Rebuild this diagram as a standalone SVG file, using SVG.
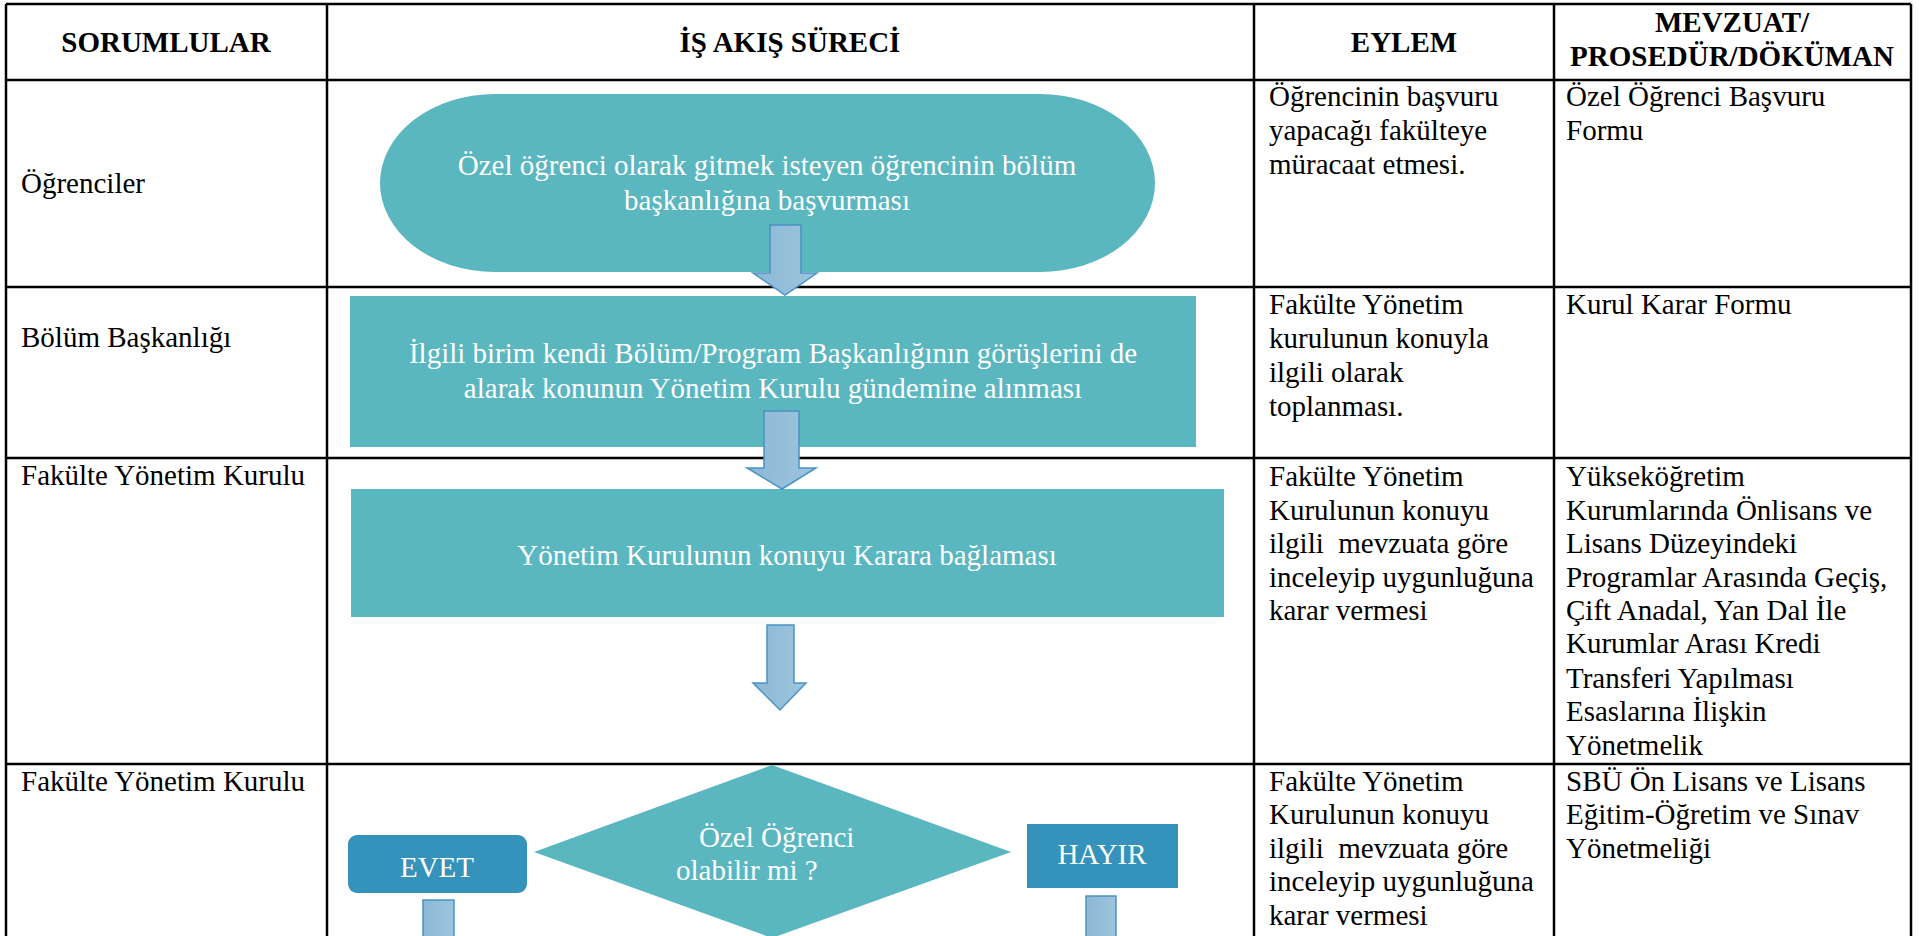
<svg xmlns="http://www.w3.org/2000/svg" width="1926" height="936" viewBox="0 0 1926 936">
<defs>
<style>
.t{font-family:"Liberation Serif","Times New Roman",serif;font-size:29px;fill:#000}
.h{font-weight:bold;text-anchor:middle}
.w{fill:#fff}
.c{text-anchor:middle}
.grid{stroke:#000;stroke-width:2.5;fill:none}
.teal{fill:#5AB6BF}
.dark{fill:#3592BA}
.arr{fill:url(#ag);stroke:#4A93C2;stroke-width:1.5;stroke-linejoin:miter}
</style>
<linearGradient id="ag" x1="0" y1="0" x2="1" y2="0">
<stop offset="0" stop-color="#8CB8D6"/>
<stop offset="1" stop-color="#9DC4DC"/>
</linearGradient>
</defs>
<rect width="1926" height="936" fill="#fff"/>

<g id="table">
<path class="grid" d="M6 4H1911M6 80H1911M6 287H1911M6 458H1911M6 764H1911M6 4V936M327 4V936M1254 4V936M1554 4V936M1911 4V936"/>
<text class="t h" x="166" y="52">SORUMLULAR</text>
<text class="t h" x="790" y="52">İŞ AKIŞ SÜRECİ</text>
<text class="t h" x="1404" y="52">EYLEM</text>
<text class="t h" x="1732" y="32">MEVZUAT/</text>
<text class="t h" x="1732" y="66">PROSEDÜR/DÖKÜMAN</text>
</g>

<g id="sorumlular">
<text class="t" x="21" y="193">Öğrenciler</text>
<text class="t" x="21" y="347">Bölüm Başkanlığı</text>
<text class="t" x="21" y="485">Fakülte Yönetim Kurulu</text>
<text class="t" x="21" y="791">Fakülte Yönetim Kurulu</text>
</g>

<g id="eylem">
<text class="t" x="1269" y="106">Öğrencinin başvuru</text>
<text class="t" x="1269" y="140">yapacağı fakülteye</text>
<text class="t" x="1269" y="174">müracaat etmesi.</text>
<text class="t" x="1269" y="314">Fakülte Yönetim</text>
<text class="t" x="1269" y="348">kurulunun konuyla</text>
<text class="t" x="1269" y="382">ilgili olarak</text>
<text class="t" x="1269" y="416">toplanması.</text>
<text class="t" x="1269" y="486">Fakülte Yönetim</text>
<text class="t" x="1269" y="520">Kurulunun konuyu</text>
<text class="t" x="1269" y="553" xml:space="preserve">ilgili  mevzuata göre</text>
<text class="t" x="1269" y="587">inceleyip uygunluğuna</text>
<text class="t" x="1269" y="620">karar vermesi</text>
<text class="t" x="1269" y="791">Fakülte Yönetim</text>
<text class="t" x="1269" y="824">Kurulunun konuyu</text>
<text class="t" x="1269" y="858" xml:space="preserve">ilgili  mevzuata göre</text>
<text class="t" x="1269" y="891">inceleyip uygunluğuna</text>
<text class="t" x="1269" y="925">karar vermesi</text>
</g>

<g id="mevzuat">
<text class="t" x="1566" y="106">Özel Öğrenci Başvuru</text>
<text class="t" x="1566" y="140">Formu</text>
<text class="t" x="1566" y="314">Kurul Karar Formu</text>
<text class="t" x="1566" y="486">Yükseköğretim</text>
<text class="t" x="1566" y="520">Kurumlarında Önlisans ve</text>
<text class="t" x="1566" y="553">Lisans Düzeyindeki</text>
<text class="t" x="1566" y="587">Programlar Arasında Geçiş,</text>
<text class="t" x="1566" y="620">Çift Anadal, Yan Dal İle</text>
<text class="t" x="1566" y="653">Kurumlar Arası Kredi</text>
<text class="t" x="1566" y="688">Transferi Yapılması</text>
<text class="t" x="1566" y="721">Esaslarına İlişkin</text>
<text class="t" x="1566" y="755">Yönetmelik</text>
<text class="t" x="1566" y="791">SBÜ Ön Lisans ve Lisans</text>
<text class="t" x="1566" y="824">Eğitim-Öğretim ve Sınav</text>
<text class="t" x="1566" y="858">Yönetmeliği</text>
</g>

<g id="n1">
<rect class="teal" x="380" y="94" width="775" height="178" rx="115" ry="89"/>
<text class="t w c" x="767" y="175">Özel öğrenci olarak gitmek isteyen öğrencinin bölüm</text>
<text class="t w c" x="767" y="210">başkanlığına başvurması</text>
</g>

<g id="n2">
<rect class="teal" x="350" y="296" width="846" height="151"/>
<text class="t w c" x="773" y="363">İlgili birim kendi Bölüm/Program Başkanlığının görüşlerini de</text>
<text class="t w c" x="773" y="398">alarak konunun Yönetim Kurulu gündemine alınması</text>
</g>

<g id="n3">
<rect class="teal" x="351" y="489" width="873" height="128"/>
<text class="t w c" x="787" y="565">Yönetim Kurulunun konuyu Karara bağlaması</text>
</g>

<g id="n4">
<polygon class="teal" points="772,765 1011,852 772,938 534,852"/>
<text class="t w" x="699" y="847">Özel Öğrenci</text>
<text class="t w" x="676" y="880">olabilir mi ?</text>
</g>

<g id="evet">
<rect class="dark" x="348" y="835" width="179" height="58" rx="9"/>
<text class="t w c" x="437" y="877">EVET</text>
</g>

<g id="hayir">
<rect class="dark" x="1027" y="824" width="151" height="64"/>
<text class="t w c" x="1102" y="864">HAYIR</text>
</g>

<g id="connectors">
<polygon class="arr" points="770,225 801,225 801,273 817,273 785,295 753,273 770,273"/>
<polygon class="arr" points="764,411 799,411 799,468 816,468 782,489 747,468 764,468"/>
<polygon class="arr" points="767,625 794,625 794,683 806,683 780,710 753,683 767,683"/>
<polygon class="arr" points="423,900 454,900 454,940 423,940"/>
<polygon class="arr" points="1086,896 1116,896 1116,940 1086,940"/>
</g>
</svg>
